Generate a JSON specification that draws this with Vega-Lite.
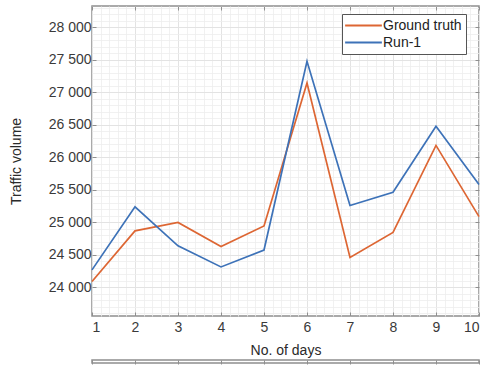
{
  "$schema": "https://vega.github.io/schema/vega-lite/v6.json",
  "padding": {"left": 8, "top": 4, "right": 6, "bottom": 0},
  "background": "white",
  "config": {
    "font": "Liberation Sans",
    "view": {"stroke": "#8f8f8f", "strokeWidth": 1.5},
    "axis": {
      "labelFont": "Liberation Sans",
      "titleFont": "Liberation Sans",
      "labelColor": "#3a3a3a",
      "titleColor": "#2a2a2a",
      "titleFontWeight": "normal",
      "tickColor": "#8f8f8f",
      "domain": false
    },
    "legend": {"labelFont": "Liberation Sans"}
  },
  "datasets": {
    "traffic": [
      {"day": 1, "series": "Ground truth", "volume": 24090},
      {"day": 2, "series": "Ground truth", "volume": 24870},
      {"day": 3, "series": "Ground truth", "volume": 25000},
      {"day": 4, "series": "Ground truth", "volume": 24630},
      {"day": 5, "series": "Ground truth", "volume": 24945},
      {"day": 6, "series": "Ground truth", "volume": 27145},
      {"day": 7, "series": "Ground truth", "volume": 24460},
      {"day": 8, "series": "Ground truth", "volume": 24845},
      {"day": 9, "series": "Ground truth", "volume": 26185},
      {"day": 10, "series": "Ground truth", "volume": 25090},
      {"day": 1, "series": "Run-1", "volume": 24270},
      {"day": 2, "series": "Run-1", "volume": 25240},
      {"day": 3, "series": "Run-1", "volume": 24640},
      {"day": 4, "series": "Run-1", "volume": 24315},
      {"day": 5, "series": "Run-1", "volume": 24575},
      {"day": 6, "series": "Run-1", "volume": 27480},
      {"day": 7, "series": "Run-1", "volume": 25260},
      {"day": 8, "series": "Run-1", "volume": 25465},
      {"day": 9, "series": "Run-1", "volume": 26480},
      {"day": 10, "series": "Run-1", "volume": 25585}
    ]
  },
  "spacing": 0,
  "vconcat": [
    {
      "width": 387,
      "height": 310,
      "data": {"name": "traffic"},
      "resolve": {"axis": {"x": "independent", "y": "independent"}},
      "layer": [
        {
          "mark": {"type": "line", "opacity": 0},
          "encoding": {
            "x": {
              "field": "day", "type": "quantitative",
              "scale": {"domain": [1, 10], "nice": false, "zero": false},
              "axis": {
                "orient": "top", "labels": false, "ticks": false, "domain": false, "title": null,
                "grid": true, "gridColor": "#ededed", "gridWidth": 0.8,
                "values": [1.2, 1.4, 1.6, 1.8, 2, 2.2, 2.4, 2.6, 2.8, 3, 3.2, 3.4, 3.6, 3.8, 4, 4.2, 4.4, 4.6, 4.8, 5, 5.2, 5.4, 5.6, 5.8, 6, 6.2, 6.4, 6.6, 6.8, 7, 7.2, 7.4, 7.6, 7.8, 8, 8.2, 8.4, 8.6, 8.8, 9, 9.2, 9.4, 9.6, 9.8]
              }
            },
            "y": {
              "field": "volume", "type": "quantitative",
              "scale": {"domain": [23560, 28330], "nice": false, "zero": false},
              "axis": {
                "orient": "right", "labels": false, "ticks": false, "domain": false, "title": null,
                "grid": true, "gridColor": "#ededed", "gridWidth": 0.8,
                "values": [23600, 23700, 23800, 23900, 24000, 24100, 24200, 24300, 24400, 24500, 24600, 24700, 24800, 24900, 25000, 25100, 25200, 25300, 25400, 25500, 25600, 25700, 25800, 25900, 26000, 26100, 26200, 26300, 26400, 26500, 26600, 26700, 26800, 26900, 27000, 27100, 27200, 27300, 27400, 27500, 27600, 27700, 27800, 27900, 28000, 28100, 28200, 28300]
              }
            }
          }
        },
        {
          "mark": {"type": "line", "opacity": 0},
          "encoding": {
            "x": {
              "field": "day", "type": "quantitative",
              "axis": {
                "orient": "top", "labels": false, "ticks": true, "tickSize": -4, "domain": false,
                "title": null, "grid": false,
                "values": [1, 2, 3, 4, 5, 6, 7, 8, 9, 10]
              }
            },
            "y": {
              "field": "volume", "type": "quantitative",
              "axis": {
                "orient": "right", "labels": false, "ticks": true, "tickSize": -4, "domain": false,
                "title": null, "grid": false,
                "values": [24000, 24500, 25000, 25500, 26000, 26500, 27000, 27500, 28000]
              }
            }
          }
        },
        {
          "mark": {"type": "line", "strokeWidth": 1.7},
          "encoding": {
            "x": {
              "field": "day", "type": "quantitative",
              "axis": {
                "orient": "bottom", "title": "No. of days", "titleFontSize": 14,
                "titlePadding": 9, "labelFontSize": 14, "labelPadding": 8,
                "ticks": true, "tickSize": -4, "grid": true, "gridColor": "#e3e3e3",
                "values": [1, 2, 3, 4, 5, 6, 7, 8, 9, 10]
              }
            },
            "y": {
              "field": "volume", "type": "quantitative",
              "axis": {
                "orient": "left", "title": "Traffic volume", "titleFontSize": 14,
                "titlePadding": 25, "labelFontSize": 14, "labelPadding": 5,
                "ticks": true, "tickSize": -4, "grid": true, "gridColor": "#e3e3e3",
                "values": [24000, 24500, 25000, 25500, 26000, 26500, 27000, 27500, 28000],
                "labelExpr": "replace(format(datum.value, ','), ',', ' ')"
              }
            },
            "color": {
              "field": "series", "type": "nominal",
              "scale": {"domain": ["Ground truth", "Run-1"], "range": ["#dd6633", "#3d72b8"]},
              "legend": {
                "title": null, "orient": "none", "legendX": 250, "legendY": 8,
                "symbolType": "M-3,0H3", "symbolSize": 150, "symbolStrokeWidth": 2,
                "symbolOffset": 10, "labelOffset": 12,
                "labelFontSize": 14, "labelColor": "#222222",
                "strokeColor": "#555555", "fillColor": "white", "padding": 4,
                "rowPadding": 2
              }
            }
          }
        }
      ]
    },
    {
      "width": 387,
      "height": 3,
      "data": {"name": "traffic"},
      "mark": {"type": "line", "opacity": 0},
      "encoding": {
        "x": {
          "field": "day", "type": "quantitative",
          "scale": {"domain": [1, 10], "nice": false, "zero": false},
          "axis": {
            "orient": "top", "labels": false, "ticks": true, "tickSize": -4, "domain": false,
            "title": null, "grid": false, "values": [1, 2, 3, 4, 5, 6, 7, 8, 9, 10]
          }
        },
        "y": {"field": "volume", "type": "quantitative", "axis": null}
      }
    }
  ]
}
